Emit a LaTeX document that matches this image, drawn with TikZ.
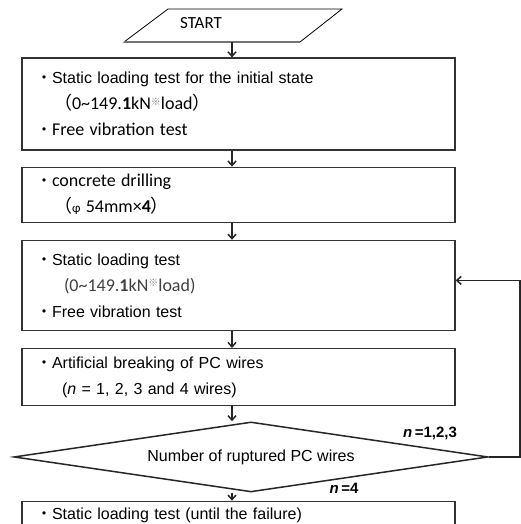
\documentclass[tikz,border=0pt]{standalone}
\usepackage{fontspec}
\setmainfont{Liberation Sans}
\newfontfamily\calib{Carlito}
\newfontfamily\jp{Noto Sans CJK JP}
\usetikzlibrary{positioning,arrows.meta,shapes.geometric}

\newcommand\bul{{\jp ・}}
\newcommand\lpar{{\jp （}}
\newcommand\rpar{{\jp ）}}
\newcommand\calbr{\calib\fontsize{18}{26}\selectfont}
\newcommand\kome{\raisebox{0.5ex}{\jp\color{black!50}\fontsize{10}{10}\selectfont ※}}

\begin{document}
\begin{tikzpicture}[x=1pt, y=-1pt, >={Straight Barb[length=4.5pt,width=8pt]},
  font=\fontsize{16}{26}\selectfont,
  stage/.style={draw=black!80, line width=1.2pt, text width=405pt, inner xsep=14pt, inner ysep=0pt, align=left},
  flow/.style={->, line width=1.5pt, black!85},
  tag/.style={font=\fontsize{15}{15}\selectfont\bfseries, inner sep=0pt}]
\useasboundingbox (0,0) rectangle (520,524);
% start
\draw[line width=0.8pt] (124,42) -- (168,9) -- (342,9) -- (300,42) -- cycle;
\draw[black!55, line width=2.5pt] (124,42) -- (300,42);
\node (start) at (201,23) {\calib\fontsize{17}{17}\selectfont START};
\coordinate (ax) at (232,42);
% test steps
\node[stage, minimum height=92pt] (s1) at (238.5,104)
  {\bul Static loading test for the initial state\\
   \hspace*{18pt}{\calbr\lpar 0\textasciitilde149.\textbf{1}kN\kome load\rpar}\\
   \bul{\calbr Free vibration test}};
\node[stage, minimum height=55pt, below=16pt of s1] (s2)
  {\bul{\calbr concrete drilling}\\
   \hspace*{18pt}{\calbr\lpar{\fontsize{13}{13}\selectfont φ} 54mm×\textbf{4}\rpar}};
\node[stage, minimum height=90pt, below=17pt of s2] (s3)
  {\bul Static loading test\\
   \hspace*{28pt}{\calbr\color{black!75}(0\textasciitilde149.\textbf{1}kN\kome load)}\\
   \bul Free vibration test};
\node[stage, minimum height=57pt, below=17pt of s3] (s4)
  {\bul Artificial breaking of PC wires\\
   \hspace*{26pt}(\textit{n} = 1, 2, 3 and 4 wires)};
\node[diamond, draw=black!85, line width=1.5pt, shape aspect=6.8, minimum width=474pt, minimum height=70pt,
  inner sep=0pt, below=15pt of s4, xshift=12.5pt] (dec) {\raisebox{-8pt}{Number of ruptured PC wires}};
\node[stage, minimum height=28pt, below=8pt of dec, xshift=-12.5pt] (s5)
  {\bul Static loading test (until the failure)};
% arrows
\draw[flow] (ax) -- (ax |- s1.north);
\foreach \a/\b in {s1/s2, s2/s3, s3/s4, s4/dec, dec/s5} \draw[flow] (\a.south -| ax) -- (\b.north -| ax);
\draw[flow] (dec.east) -- ++(31,0) |- ([yshift=5pt]s3.east);
\node[tag] (n123) at (430,433) {\textit{n}\,=1,2,3};
\node[tag] (n4) at (344,488) {\textit{n}\,=4};
\end{tikzpicture}
\end{document}
